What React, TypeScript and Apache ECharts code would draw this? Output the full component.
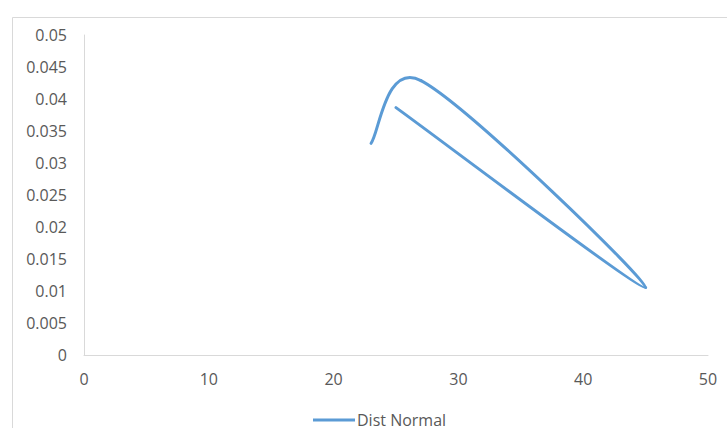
import React, { useEffect, useRef } from "react";
import * as echarts from "echarts";

const seriesName = "Dist Normal";
const xValues = [23, 27, 45, 25];
const yValues = [0.03307, 0.04288, 0.01055, 0.03865];
const xTicks = { min: 0, max: 50, interval: 10 };
const yTicks = { min: 0, max: 0.05, interval: 0.005 };

const LINE_COLOR = "#5B9BD5";
const TEXT_COLOR = "#595959";
const AXIS_COLOR = "#D9D9D9";
const FONT = "'Open Sans', 'Liberation Sans', sans-serif";
const FONT_SIZE = 16;

export default function App() {
  const ref = useRef<HTMLDivElement | null>(null);

  useEffect(() => {
    if (!ref.current) return;
    const chart = echarts.init(ref.current, null, { renderer: "svg" });
    const n = xValues.length;

    const renderItem = (params: any, api: any) => {
      const i = params.dataIndex;
      if (i >= n - 1) return { type: "group", children: [] };
      const clamp = (j: number) => Math.max(0, Math.min(n - 1, j));
      const P = (j: number) => {
        const k = clamp(j);
        return api.coord([xValues[k], yValues[k]]);
      };
      const p0 = P(i - 1);
      const p1 = P(i);
      const p2 = P(i + 1);
      const p3 = P(i + 2);
      const dist = (a: number[], b: number[]) => Math.hypot(a[0] - b[0], a[1] - b[1]);
      const d12 = dist(p1, p2);
      const d02 = dist(p0, p2);
      const d13 = dist(p1, p3);
      let f1 = 1 / 6;
      let f2 = 1 / 6;
      if (d02 > 0 && d02 / 6 > d12 / 2) f1 = d12 / (2 * d02);
      if (d13 > 0 && d13 / 6 > d12 / 2) f2 = d12 / (2 * d13);
      const c1 = [p1[0] + (p2[0] - p0[0]) * f1, p1[1] + (p2[1] - p0[1]) * f1];
      const c2 = [p2[0] - (p3[0] - p1[0]) * f2, p2[1] - (p3[1] - p1[1]) * f2];
      return {
        type: "bezierCurve",
        shape: {
          x1: p1[0],
          y1: p1[1],
          x2: p2[0],
          y2: p2[1],
          cpx1: c1[0],
          cpy1: c1[1],
          cpx2: c2[0],
          cpy2: c2[1],
        },
        style: {
          stroke: LINE_COLOR,
          lineWidth: 3,
          fill: "none",
          lineCap: "round",
          lineJoin: "round",
        },
      };
    };

    chart.setOption({
      animation: false,
      backgroundColor: "#FFFFFF",
      textStyle: { fontFamily: FONT },
      graphic: [
        {
          type: "rect",
          shape: { x: 12.5, y: 17.5, width: 900, height: 600 },
          style: { fill: "none", stroke: AXIS_COLOR, lineWidth: 1 },
          silent: true,
          z: -10,
        },
      ],
      grid: { left: 84, right: 19, top: 35, bottom: 73, containLabel: false },
      legend: {
        show: true,
        left: 313,
        top: 412,
        padding: 0,
        itemWidth: 42,
        itemHeight: 3,
        data: [{ name: seriesName, icon: "rect" }],
        textStyle: {
          color: TEXT_COLOR,
          fontSize: FONT_SIZE,
          lineHeight: 15,
          fontFamily: FONT,
          padding: [0, 0, 0, -3],
        },
      },
      xAxis: {
        type: "value",
        min: xTicks.min,
        max: xTicks.max,
        interval: xTicks.interval,
        axisLine: { show: true, lineStyle: { color: AXIS_COLOR, width: 1 } },
        axisTick: { show: false },
        splitLine: { show: false },
        axisLabel: { color: TEXT_COLOR, fontSize: FONT_SIZE, margin: 16, fontFamily: FONT },
      },
      yAxis: {
        type: "value",
        min: yTicks.min,
        max: yTicks.max,
        interval: yTicks.interval,
        axisLine: { show: true, lineStyle: { color: AXIS_COLOR, width: 1 } },
        axisTick: { show: false },
        splitLine: { show: false },
        axisLabel: { color: TEXT_COLOR, fontSize: FONT_SIZE, margin: 17, fontFamily: FONT },
      },
      series: [
        {
          name: seriesName,
          type: "custom",
          renderItem,
          itemStyle: { color: LINE_COLOR },
          encode: { x: 0, y: 1 },
          data: xValues.map((x, i) => [x, yValues[i]]),
        },
      ],
    });

    return () => {
      chart.dispose();
    };
  }, []);

  return (
    <div
      ref={ref}
      style={{ position: "fixed", left: 0, top: 0, width: 727, height: 428 }}
    />
  );
}
